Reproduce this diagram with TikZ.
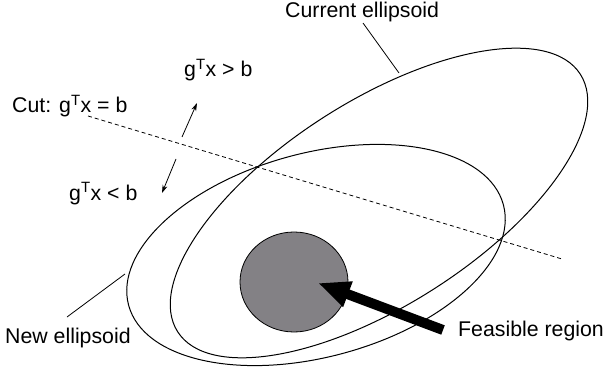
\documentclass[tikz,border=0pt]{standalone}
\usepackage{fontspec}
\setmainfont{Liberation Sans}
\usetikzlibrary{arrows.meta,shapes.geometric}
\definecolor{feasgray}{RGB}{131,129,133}
\tikzset{
  lbl/.style={inner sep=0pt, anchor=base west, font=\fontsize{21.3}{25}\selectfont},
  ell/.style={draw=black, line width=1pt},
  leader/.style={draw=black, line width=0.8pt},
  cutline/.style={draw=black, line width=0.8pt, dash pattern=on 4pt off 3pt},
  side/.style={draw=black, line width=0.8pt, -{Stealth[length=8pt,width=5pt]}},
  bigarrow/.style={draw=black, line width=10pt, -{Triangle[length=32pt,width=25pt]}}
}
\begin{document}
\begin{tikzpicture}[x=1pt,y=1pt]
\useasboundingbox (0,0) rectangle (605,370);
% ellipses
\draw[ell, rotate around={32.6:(379,167)}] (379,167) ellipse [x radius=239, y radius=102];
\draw[ell, rotate around={15:(316,115)}] (316,115) ellipse [x radius=194, y radius=102];
% feasible region
\node[draw=black, line width=0.8pt, fill=feasgray, ellipse, minimum width=108pt, minimum height=100pt, inner sep=0pt] (feas) at (294,88) {};
% cut line
\coordinate (cutA) at (88,254);
\coordinate (cutB) at (562,111);
\draw[cutline] (cutA) -- (cutB);
% labels
\node[lbl] (cur) at (285,352) {Current ellipsoid};
\node[lbl] (cut) at (12,257) {Cut: g\textsuperscript{T}x = b};
\node[lbl] (gt) at (184,293) {g\textsuperscript{T}x > b};
\node[lbl] (lt) at (69,170) {g\textsuperscript{T}x < b};
\node[lbl] (new) at (5,27) {New ellipsoid};
\node[lbl] (fr) at (458,34) {Feasible region};
% leaders
\coordinate (curA) at (363,347);
\coordinate (curB) at (399,297);
\draw[leader] (curA) -- (curB);
\coordinate (newA) at (125,96);
\coordinate (newB) at (67,53);
\draw[leader] (newA) -- (newB);
% side arrows
\coordinate (upA) at (182,233);
\coordinate (upB) at (197,267);
\draw[side] (upA) -- (upB);
\coordinate (dnA) at (176,211);
\coordinate (dnB) at (162,177);
\draw[side] (dnA) -- (dnB);
% big arrow
\coordinate (arrT) at (443,40);
\coordinate (arrH) at (318,87);
\draw[bigarrow] (arrT) -- (arrH);
\end{tikzpicture}
\end{document}
